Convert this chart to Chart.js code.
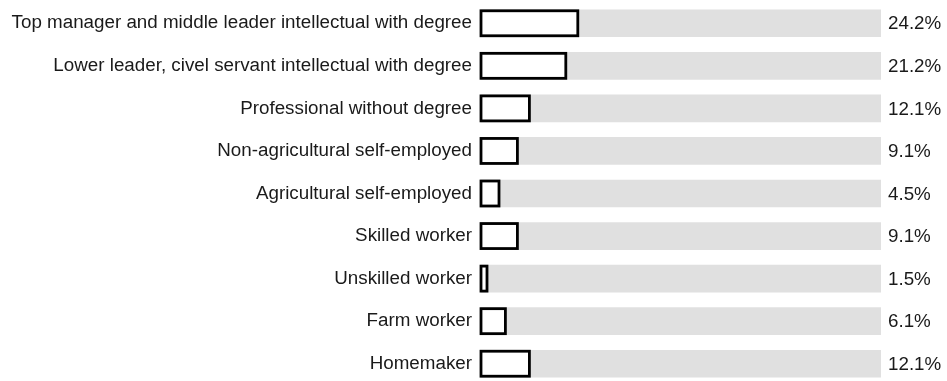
<!DOCTYPE html>
<html>
<head>
<meta charset="utf-8">
<title>Occupational groups</title>
<script src="https://cdn.jsdelivr.net/npm/chart.js@4.4.1/dist/chart.umd.min.js"></script>
<style>
  html, body { margin: 0; padding: 0; background: #fff; overflow: hidden; }
  #wrap { position: relative; width: 947px; height: 386px; }
</style>
</head>
<body>
<div id="wrap"><canvas id="occupationChart"></canvas></div>
<script>
const categories = [
  "Top manager and middle leader intellectual with degree",
  "Lower leader, civel servant intellectual with degree",
  "Professional without degree",
  "Non-agricultural self-employed",
  "Agricultural self-employed",
  "Skilled worker",
  "Unskilled worker",
  "Farm worker",
  "Homemaker",
]
const shares = [24.2, 21.2, 12.1, 9.1, 4.5, 9.1, 1.5, 6.1, 12.1]
const fullScale = categories.map(() => 100)

const labelFont = "Arial, 'Liberation Sans', sans-serif"

// black outline stroked on the bar edges (half outside, half inside)
const barOutline = {
  id: "barOutline",
  afterDatasetsDraw(chart) {
    const { ctx } = chart
    const meta = chart.getDatasetMeta(0)
    ctx.save()
    ctx.strokeStyle = "#000000"
    ctx.lineWidth = 2.8
    meta.data.forEach((bar) => {
      const { x, y, base, height } = bar.getProps(["x", "y", "base", "height"], true)
      ctx.strokeRect(base, y - height / 2, x - base, height)
    })
    ctx.restore()
  },
}

// percentage text to the right of each track
const valueLabels = {
  id: "valueLabels",
  afterDatasetsDraw(chart) {
    const { ctx, chartArea } = chart
    const meta = chart.getDatasetMeta(0)
    ctx.save()
    ctx.font = "18.8px " + labelFont
    ctx.fillStyle = "#1a1a1a"
    ctx.textBaseline = "middle"
    ctx.textAlign = "left"
    meta.data.forEach((bar, i) => {
      ctx.fillText(shares[i].toFixed(1) + "%", chartArea.right + 7, bar.y + 1)
    })
    ctx.restore()
  },
}

const ctx = document.getElementById("occupationChart").getContext("2d")

new Chart(ctx, {
  type: "bar",
  data: {
    labels: categories,
    datasets: [
      {
        data: shares,
        backgroundColor: "#ffffff",
        borderWidth: 0,
        barThickness: 25,
        grouped: false,
        order: 0,
      },
      {
        data: fullScale,
        backgroundColor: "#e0e0e0",
        borderWidth: 0,
        barThickness: 27,
        grouped: false,
        order: 1,
      },
    ],
  },
  plugins: [barOutline, valueLabels],
  options: {
    indexAxis: "y",
    responsive: true,
    maintainAspectRatio: false,
    animation: false,
    layout: {
      padding: { top: 2, right: 66, bottom: 1, left: 0 },
    },
    plugins: {
      legend: { display: false },
      tooltip: { enabled: false },
    },
    scales: {
      x: {
        min: 0,
        max: 100,
        display: false,
      },
      y: {
        grid: { display: false, drawTicks: false },
        border: { display: false },
        afterFit(scale) {
          // fixed label column; no extra room above/below the first and last rows
          scale.width = 481
          scale.paddingTop = 0
          scale.paddingBottom = 0
        },
        ticks: {
          color: "#1a1a1a",
          padding: 9,
          font: { family: labelFont, size: 18.8 },
        },
      },
    },
  },
})
</script>
</body>
</html>
